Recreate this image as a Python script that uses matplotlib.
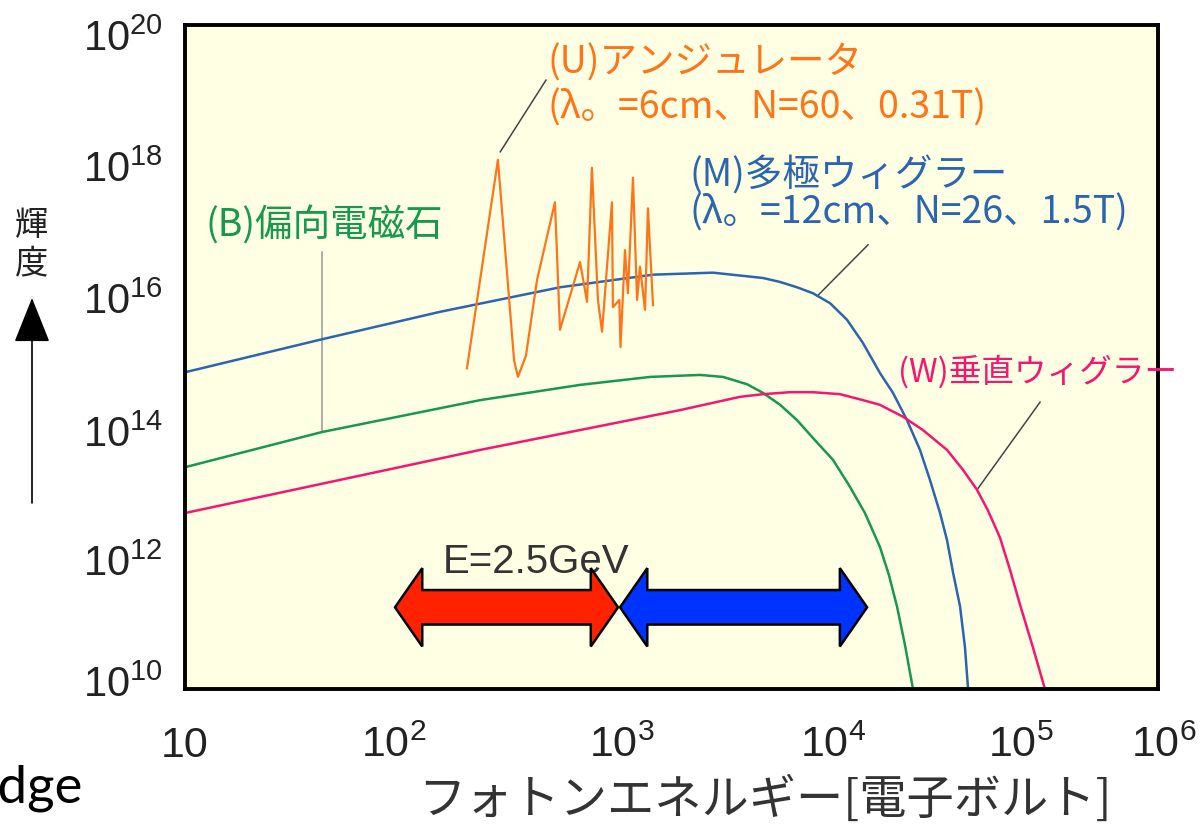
import matplotlib.pyplot as plt
import matplotlib.transforms as mtransforms
import numpy as np
from matplotlib.patches import Polygon, FancyArrowPatch

plt.rcParams['font.family'] = ['Noto Sans CJK JP', 'DejaVu Sans']
plt.rcParams['mathtext.default'] = 'regular'

# log10 of photon energy [eV] / brightness for each light source
bend_logE = [1.000, 1.704, 2.516, 3.030, 3.390, 3.646, 3.765, 3.888, 3.970, 4.058, 4.145, 4.227,
             4.330, 4.412, 4.494, 4.571, 4.617, 4.659, 4.700, 4.741]
bend_logB = [13.34, 13.87, 14.35, 14.58, 14.70, 14.73, 14.70, 14.59, 14.46, 14.28, 14.05, 13.78,
             13.45, 13.07, 12.65, 12.14, 11.72, 11.24, 10.66, 10.00]

mpw_logE = [1.000, 1.694, 2.310, 2.927, 3.405, 3.713, 3.970, 4.058, 4.145, 4.227, 4.315, 4.402,
            4.484, 4.571, 4.638, 4.710, 4.777, 4.828, 4.880, 4.916, 4.947, 4.983, 5.008, 5.024]
mpw_logB = [14.77, 15.26, 15.68, 16.05, 16.24, 16.27, 16.19, 16.13, 16.05, 15.96, 15.81, 15.56,
            15.21, 14.76, 14.46, 14.05, 13.60, 13.15, 12.65, 12.24, 11.75, 11.24, 10.63, 10.00]

vw_logE = [1.000, 2.516, 3.030, 3.544, 3.852, 3.970, 4.109, 4.227, 4.366, 4.484, 4.571, 4.690,
           4.792, 4.916, 4.998, 5.070, 5.126, 5.188, 5.239, 5.291, 5.358, 5.419]
vw_logB = [12.65, 13.60, 13.90, 14.20, 14.40, 14.44, 14.47, 14.47, 14.44, 14.35, 14.28, 14.10,
           13.90, 13.60, 13.30, 13.00, 12.69, 12.28, 11.80, 11.27, 10.62, 10.00]

und_logE = [2.449, 2.608, 2.691, 2.711, 2.752, 2.809, 2.901, 2.927, 3.030, 3.066, 3.091, 3.122,
            3.143, 3.194, 3.199, 3.232, 3.238, 3.261, 3.276, 3.302, 3.323, 3.338, 3.364, 3.379,
            3.405]
und_logB = [14.83, 17.97, 14.95, 14.70, 15.02, 16.16, 17.33, 15.41, 16.43, 15.83, 17.85, 15.86,
            15.38, 17.33, 15.75, 15.86, 15.15, 16.61, 15.96, 17.70, 15.86, 16.36, 15.71, 17.24,
            15.78]

# energy ranges of the two double arrows [eV] and their height
soft_range = [120, 1680]
hard_range = [1720, 32000]
arrow_level = 1.7e11

x_ticks = [1, 2, 3, 4, 5, 6]
x_labels = ['10', '$10^{2}$', '$10^{3}$', '$10^{4}$', '$10^{5}$', '$10^{6}$']
y_ticks = [10, 12, 14, 16, 18, 20]
y_labels = ['$10^{%d}$' % p for p in y_ticks]

# hand nudges of the tick labels, in pixels
x_label_shift = [0, 14, 48, 64, 57, 6]
y_label_shift = [8, -4, -8, -8, -8, -10]

c_orange = '#ff7418'
c_blue = '#2b65b2'
c_green = '#17984c'
c_pink = '#f7156f'

fig = plt.figure(figsize=(12, 8.24), dpi=100)
ax = fig.add_axes([185 / 1200, 1 - 689 / 824, 973 / 1200, 664 / 824])
ax.set_facecolor('#ffffe4')
ax.set_xscale('log')
ax.set_yscale('log')
ax.set_xlim(10, 1e6)
ax.set_ylim(1e10, 1e20)

def curve(logE, logB, color, lw=1.8):
    ax.plot(10 ** np.array(logE), 10 ** np.array(logB), color=color, lw=lw, zorder=3,
            solid_joinstyle='round')

curve(bend_logE, bend_logB, c_green)
curve(mpw_logE, mpw_logB, c_blue)
curve(vw_logE, vw_logB, c_pink)
curve(und_logE, und_logB, c_orange, lw=1.6)

# leader lines from the labels to the curves
def leader(x0, y0, x1, y1, color='#444444'):
    ax.plot([10 ** x0, 10 ** x1], [10 ** y0, 10 ** y1], color=color, lw=1.1, zorder=2)

leader(2.62, 18.09, 2.855, 19.17)
leader(4.253, 15.93, 4.51, 16.69)
leader(1.704, 13.87, 1.704, 16.58, color='#999999')
leader(5.07, 13.00, 5.394, 14.32)

# labels
ax.text(0.373, 0.942, '(U)アンジュレータ', transform=ax.transAxes, color=c_orange,
        fontsize=27, va='center', ha='left')
ax.text(0.373, 0.875, '(λ。=6cm、N=60、0.31T)', transform=ax.transAxes, color=c_orange,
        fontsize=27, va='center', ha='left')
ax.text(0.519, 0.772, '(M)多極ウィグラー', transform=ax.transAxes, color=c_blue,
        fontsize=27, va='center', ha='left')
ax.text(0.519, 0.717, '(λ。=12cm、N=26、1.5T)', transform=ax.transAxes, color=c_blue,
        fontsize=27, va='center', ha='left')
ax.text(0.021, 0.699, '(B)偏向電磁石', transform=ax.transAxes, color=c_green,
        fontsize=27, va='center', ha='left')
ax.text(0.733, 0.477, '(W)垂直ウィグラー', transform=ax.transAxes, color=c_pink,
        fontsize=23.5, va='center', ha='left', clip_on=False, zorder=6)
ax.text(0.265, 0.191, 'E=2.5GeV', transform=ax.transAxes, color='#333333',
        fontsize=29, va='center', ha='left', family='Liberation Sans')

# double-headed block arrows
def block_arrow(lo, hi, color):
    xl, xr = np.log10(lo), np.log10(hi)
    y0 = np.log10(arrow_level)
    h, H, s = 0.14, 0.59, 0.26
    pts = [(xl, y0), (xl + h, y0 + H), (xl + h, y0 + s), (xr - h, y0 + s), (xr - h, y0 + H),
           (xr, y0), (xr - h, y0 - H), (xr - h, y0 - s), (xl + h, y0 - s), (xl + h, y0 - H)]
    pts = [(10 ** px, 10 ** py) for px, py in pts]
    ax.add_patch(Polygon(pts, closed=True, facecolor=color, edgecolor='black', lw=1.8,
                         joinstyle='miter', zorder=5))

block_arrow(soft_range[0], soft_range[1], '#ff2200')
block_arrow(hard_range[0], hard_range[1], '#0033ff')

# axes styling
ax.set_xticks(10.0 ** np.array(x_ticks))
ax.set_xticklabels(x_labels)
ax.set_yticks(10.0 ** np.array(y_ticks))
ax.set_yticklabels(y_labels)
ax.minorticks_off()
ax.tick_params(length=0)
ax.tick_params(axis='x', pad=49, labelsize=31)
ax.tick_params(axis='y', pad=16, labelsize=30)
for lab, dx in zip(ax.get_xticklabels(), x_label_shift):
    lab.set_family('Liberation Sans')
    lab.set_color('#222222')
    lab.set_verticalalignment('baseline')
    lab.set_transform(lab.get_transform()
                      + mtransforms.ScaledTranslation(dx / 100, 0, fig.dpi_scale_trans))
for lab, dy in zip(ax.get_yticklabels(), y_label_shift):
    lab.set_family('Liberation Sans')
    lab.set_color('#222222')
    lab.set_transform(lab.get_transform()
                      + mtransforms.ScaledTranslation(0, dy / 100, fig.dpi_scale_trans))
for sp in ax.spines.values():
    sp.set_linewidth(2.8)
    sp.set_color('black')
    sp.set_zorder(4)

fig.text(765 / 1200, 1 - 801 / 824, 'フォトンエネルギー[電子ボルト]', ha='center', va='center',
         fontsize=34, color='#333333')

# vertical axis caption with an upward arrow
fig.text(32 / 1200, 1 - 225 / 824, '輝', ha='center', va='center', fontsize=24, color='#222222')
fig.text(32 / 1200, 1 - 264 / 824, '度', ha='center', va='center', fontsize=24, color='#222222')
fig.add_artist(FancyArrowPatch((32 / 1200, 1 - 503 / 824), (32 / 1200, 1 - 298 / 824),
                               transform=fig.transFigure,
                               arrowstyle='-|>,head_length=28.8,head_width=11.5',
                               mutation_scale=1, lw=1.2, color='black',
                               shrinkA=0, shrinkB=0))

fig.text(82 / 1200, 1 - 802 / 824, 'Edge', ha='right', va='baseline', fontsize=38,
         family='Lato', color='black')

fig.savefig('out.png', dpi=100)
